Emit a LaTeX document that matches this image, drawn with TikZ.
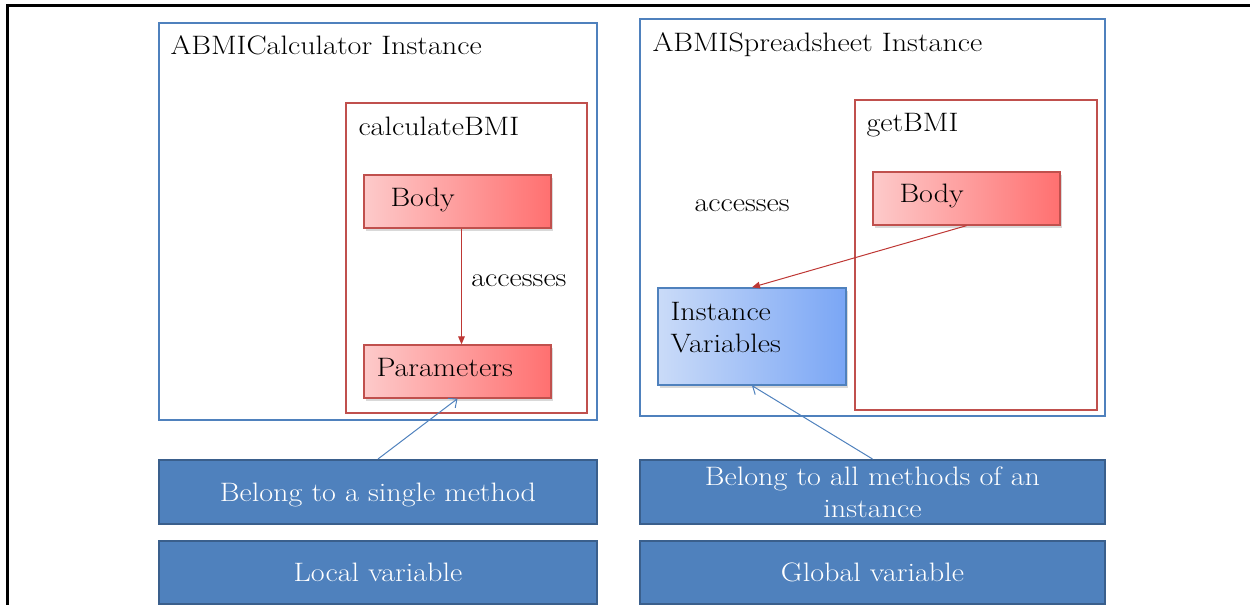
\documentclass[tikz,border=0pt]{standalone}
\usepackage{fontspec}
\setmainfont{Latin Modern Roman}[FakeStretch=1.13]
\usetikzlibrary{arrows.meta,shadows}

\definecolor{boxblue}{RGB}{79,129,189}
\definecolor{edgeblue}{RGB}{58,95,140}
\definecolor{boxred}{RGB}{192,80,77}
\definecolor{arrowred}{RGB}{190,55,52}
\definecolor{redlight}{RGB}{253,202,202}
\definecolor{reddark}{RGB}{255,112,112}
\definecolor{ivlight}{RGB}{202,219,248}
\definecolor{ivdark}{RGB}{122,166,245}

\tikzset{every picture/.style={line width=0.75pt}}
\tikzset{
  instbox/.style={draw=boxblue, line width=2pt, minimum height=297.75pt, inner sep=0pt},
  methbox/.style={draw=boxred, line width=2pt, minimum height=232.5pt, inner sep=0pt},
  redbox/.style={draw=boxred, line width=1pt, left color=redlight, right color=reddark,
    minimum width=140.25pt, minimum height=39.75pt, inner sep=0pt,
    drop shadow={opacity=0.3, shadow xshift=1.5pt, shadow yshift=-2pt}},
  varbox/.style={draw=boxblue, line width=1pt, left color=ivlight, right color=ivdark,
    minimum width=141pt, minimum height=72.75pt, inner sep=0pt,
    drop shadow={opacity=0.3, shadow xshift=1.5pt, shadow yshift=-2pt}},
  descbox/.style={draw=edgeblue, line width=1.5pt, fill=boxblue, text=white, align=center,
    minimum height=48pt, inner sep=0pt},
  txt/.style={anchor=base west, inner sep=0pt},
  redarrow/.style={draw=arrowred, line width=0.75pt, -{Triangle[length=6pt,width=5pt]}},
  bluearrow/.style={draw=boxblue, line width=0.75pt, -{Straight Barb[length=5pt,width=9pt]}}
}

\begin{document}
\begin{tikzpicture}[x=0.75pt,y=0.75pt,yscale=-1,xscale=1,
  font=\fontsize{20}{24}\selectfont]
\useasboundingbox (0,0) rectangle (1250,605);

%Straight Lines [frame]
\draw [line width=2.25pt] (7,605) -- (7,6) -- (1250,6) ;

%Shape: Rectangle [ABMICalculator side]
\node (calcInst) [instbox, minimum width=328.5pt] at (378,221.5) {};
\node (calcMeth) [methbox, minimum width=180.75pt] at (466.5,258) {};
\node (calcBody) [redbox] at (457.5,201.5) {};
\node (calcPar) [redbox] at (457.5,371.5) {};

%Shape: Rectangle [ABMISpreadsheet side]
\node (sheetInst) [instbox, minimum width=348.75pt] at (872.5,217.5) {};
\node (getMeth) [methbox, minimum width=181.5pt] at (976,255) {};
\node (getBody) [redbox] at (966.5,198.5) {};
\node (instVar) [varbox] at (752,336.5) {};

%Shape: Rectangle [descriptions]
\node (localDesc) [descbox, minimum width=328.5pt, text height=18pt, text depth=4pt] at (378,492) {Belong to a single method};
\node (localVar) [descbox, minimum width=328.5pt, minimum height=47.25pt] at (378,572.5) {Local variable};
\node (globalDesc) [descbox, minimum width=348.75pt] at (872.5,492) {Belong to all methods of an\\instance};
\node (globalVar) [descbox, minimum width=348.75pt, minimum height=47.25pt] at (872.5,572.5) {Global variable};

% Text Node
\node (calcTitle) [txt] at (170,55) {ABMICalculator Instance};
% Text Node
\node (calcName) [txt] at (358,136) {calculateBMI};
% Text Node
\node (calcBodyTxt) [txt] at (390,207) {Body};
% Text Node
\node (calcParTxt) [txt] at (376,377) {Parameters};
% Text Node
\node (sheetTitle) [txt] at (652,52) {ABMISpreadsheet Instance};
% Text Node
\node (getName) [txt] at (866,132) {getBMI};
% Text Node
\node (getBodyTxt) [txt] at (899,203) {Body};
% Text Node
\node (accR) [txt] at (694,212) {accesses};
% Text Node
\node (instVarTxt) [anchor=north west, inner sep=0pt, align=left] at (670,302) {Instance\\Variables};

%Straight Lines [accesses]
\draw [redarrow] ([xshift=3pt]calcBody.south) -- ([xshift=3pt]calcPar.north)
  node (accL) [pos=0.5, anchor=base west, xshift=7pt, inner sep=0pt, text=black] {accesses};
\draw [redarrow] (getBody.south) -- (instVar.north) ;

%Straight Lines [belongs to]
\draw [bluearrow] (localDesc.north) -- (calcPar.south) ;
\draw [bluearrow] (globalDesc.north) -- (instVar.south) ;

\end{tikzpicture}
\end{document}
